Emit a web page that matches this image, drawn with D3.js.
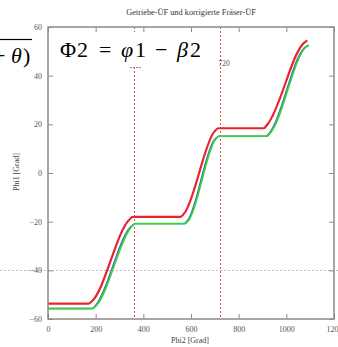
<!DOCTYPE html>
<html>
<head>
<meta charset="utf-8">
<script src="https://cdn.jsdelivr.net/npm/d3@7"></script>
<style>
  body { margin: 0; background: #fff; }
  svg { display: block; }
</style>
</head>
<body>
<script>
// values
var xTicks = [0, 200, 400, 600, 800, 1000, 1200];
var yTicks = [-60, -40, -20, 0, 20, 40, 60];
var markX = [360, 720];
var markY = [-40];

var redPhi2 = [0, 170, 186, 340, 356, 556, 572, 698, 714, 905, 921, 1074, 1088];
var redPhi1 = [-53.7, -53.7, -52.5, -19.3, -18, -18, -16.5, 17, 18.4, 18.4, 20, 53.5, 54.5];
var greenPhi2 = [0, 188, 204, 350, 366, 575, 591, 702, 718, 918, 934, 1080, 1094];
var greenPhi1 = [-55.7, -55.7, -54.3, -22.2, -20.8, -20.8, -19.3, 13.7, 15.1, 15.1, 16.6, 51.5, 52.5];
var bluePhi2 = [0, 184, 200, 346, 366, 571, 587, 698, 718, 914, 930, 1076, 1094];
var bluePhi1 = [-55.7, -55.7, -54.3, -22.2, -20.8, -20.8, -19.3, 13.7, 15.1, 15.1, 16.6, 51.5, 52.5];

var W = 338, H = 347;
var plotL = 48, plotR = 334, plotT = 27, plotB = 319;
var serif = "Liberation Serif";
var axisCol = "#8a8a8a";

var svg = d3.select("body").append("svg")
	.attr("width", W)
	.attr("height", H)
;

var x = d3.scaleLinear().domain([0, 1200]).range([plotL, plotR]);
var y = d3.scaleLinear().domain([-60, 60]).range([plotB, plotT]);

// title
svg.append("text")
	.attr("x", 191)
	.attr("y", 15)
	.attr("text-anchor", "middle")
	.attr("font-family", serif)
	.attr("font-size", 8.3)
	.attr("fill", "#333")
	.text("Getriebe-ÜF und korrigierte Fräser-ÜF")
;

// gray dashed line at -40 (crosses whole picture)
svg.selectAll("line.hmark")
	.data(markY)
	.enter().append("line")
		.attr("class", "hmark")
		.attr("x1", 0)
		.attr("x2", W)
		.attr("y1", function(d) { return Math.round(y(d)) + 0.5; })
		.attr("y2", function(d) { return Math.round(y(d)) + 0.5; })
		.style("stroke", "#bdbdbd")
		.style("stroke-width", 1)
		.style("stroke-dasharray", "2,2")
;

// red dotted verticals
svg.selectAll("line.vmark")
	.data(markX)
	.enter().append("line")
		.attr("class", "vmark")
		.attr("x1", function(d) { return Math.round(x(d)) + 0.5; })
		.attr("x2", function(d) { return Math.round(x(d)) + 0.5; })
		.attr("y1", plotT)
		.attr("y2", plotB)
		.style("stroke", "#f04848")
		.style("stroke-width", 1)
		.style("stroke-dasharray", "2,2")
;

// curves
var line = d3.line()
	.x(function(d) { return x(d[0]); })
	.y(function(d) { return y(d[1]); })
	.curve(d3.curveMonotoneX)
;

var series = [
	{ xs: bluePhi2, ys: bluePhi1, color: "#4a5fd0", w: 1.4 },
	{ xs: greenPhi2, ys: greenPhi1, color: "#33d433", w: 1.7 },
	{ xs: redPhi2, ys: redPhi1, color: "#e8232b", w: 2.2 }
];

svg.selectAll("path.curve")
	.data(series)
	.enter().append("path")
		.attr("class", "curve")
		.attr("d", function(s) { return line(d3.zip(s.xs, s.ys)); })
		.style("fill", "none")
		.style("stroke", function(s) { return s.color; })
		.style("stroke-width", function(s) { return s.w; })
		.style("stroke-linejoin", "round")
;

// axes, ticks point inward
function styleAxis(g) {
	g.select(".domain").remove();
	g.selectAll("line").style("stroke", axisCol).style("stroke-width", 1);
	g.selectAll("text")
		.attr("font-family", serif)
		.attr("font-size", 8)
		.attr("fill", "#555");
}

svg.append("g")
	.attr("transform", "translate(0," + plotB + ")")
	.call(d3.axisBottom(x).tickValues(xTicks).tickSize(-5).tickPadding(7).tickFormat(d3.format("d")))
	.call(styleAxis)
;
svg.append("g")
	.attr("transform", "translate(0," + plotT + ")")
	.call(d3.axisTop(x).tickValues(xTicks).tickSize(-5).tickFormat(""))
	.call(styleAxis)
;
svg.append("g")
	.attr("transform", "translate(" + plotL + ",0)")
	.call(d3.axisLeft(y).tickValues(yTicks).tickSize(-5).tickPadding(6).tickFormat(d3.format("d")))
	.call(styleAxis)
;
svg.append("g")
	.attr("transform", "translate(" + plotR + ",0)")
	.call(d3.axisRight(y).tickValues(yTicks).tickSize(-5).tickFormat(""))
	.call(styleAxis)
;

// frame
svg.append("rect")
	.attr("x", plotL)
	.attr("y", plotT)
	.attr("width", plotR - plotL)
	.attr("height", plotB - plotT)
	.style("fill", "none")
	.style("stroke", axisCol)
	.style("stroke-width", 1.5)
;

// axis titles
svg.append("text")
	.attr("x", 190)
	.attr("y", 343)
	.attr("text-anchor", "middle")
	.attr("font-family", serif)
	.attr("font-size", 8)
	.attr("fill", "#444")
	.text("Phi2 [Grad]")
;
svg.append("text")
	.attr("transform", "translate(19,172)rotate(-90)")
	.attr("text-anchor", "middle")
	.attr("font-family", serif)
	.attr("font-size", 8)
	.attr("fill", "#444")
	.text("Phi1 [Grad]")
;

// label at the 720 line
svg.append("text")
	.attr("x", x(720) - 1)
	.attr("y", 66)
	.attr("font-family", serif)
	.attr("font-size", 7.5)
	.attr("fill", "#555")
	.text("720")
;
svg.append("line")
	.attr("x1", 130).attr("x2", 142)
	.attr("y1", 67.5).attr("y2", 67.5)
	.style("stroke", "#8a8a8a")
	.style("stroke-width", 1)
	.style("stroke-dasharray", "2,1")
;

// pasted formula on white box
svg.append("rect")
	.attr("x", 50)
	.attr("y", 32)
	.attr("width", 166)
	.attr("height", 33)
	.style("fill", "#fff")
;

var formula = svg.append("text")
	.attr("y", 57)
	.attr("font-family", serif)
	.attr("font-size", 22)
	.attr("fill", "#000")
;
var parts = [
	{ t: "Φ", x: 60, it: false },
	{ t: "2", x: 77, it: false },
	{ t: "=", x: 99, it: false },
	{ t: "φ", x: 121, it: true },
	{ t: "1", x: 135, it: false },
	{ t: "−", x: 155, it: false },
	{ t: "β", x: 177, it: true },
	{ t: "2", x: 190, it: false }
];
formula.selectAll("tspan")
	.data(parts)
	.enter().append("tspan")
		.attr("x", function(d) { return d.x; })
		.attr("font-family", serif)
		.attr("font-style", function(d) { return d.it ? "italic" : "normal"; })
		.text(function(d) { return d.t; })
;

// cut-off piece of a second formula at the left edge
svg.append("line")
	.attr("x1", 0).attr("x2", 32)
	.attr("y1", 39.5).attr("y2", 39.5)
	.style("stroke", "#000")
	.style("stroke-width", 1.2)
;
svg.append("text")
	.attr("y", 63)
	.attr("font-family", serif)
	.attr("font-size", 22)
	.attr("fill", "#000")
	.call(function(t) {
		t.append("tspan").attr("x", -7).text("+");
		t.append("tspan").attr("x", 11).attr("font-style", "italic").text("θ");
		t.append("tspan").attr("x", 23).text(")");
	})
;
</script>
</body>
</html>
